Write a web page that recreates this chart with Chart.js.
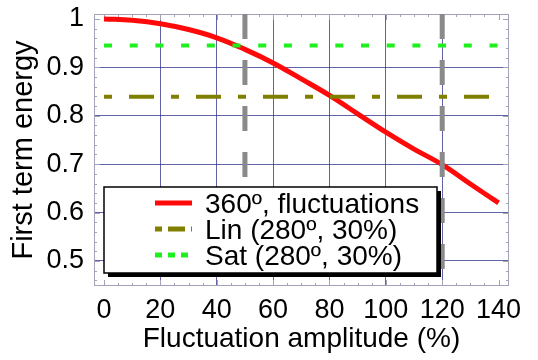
<!DOCTYPE html>
<html>
<head>
<meta charset="utf-8">
<script src="https://cdn.jsdelivr.net/npm/chart.js@4.4.1/dist/chart.umd.min.js"></script>
<style>
  html, body { margin: 0; padding: 0; background: #fff; }
  #wrap { width: 538px; height: 360px; }
</style>
</head>
<body>
<div id="wrap"><canvas id="chart" width="538" height="360"></canvas></div>
<script>
// amplitude (%) -> first term energy
const amplitude = [0, 10, 20, 30, 40, 50, 60, 70, 80, 90, 100, 110, 120, 130, 140];
const energy = [1.0, 0.997, 0.990, 0.978, 0.961, 0.937, 0.909, 0.876, 0.842, 0.804, 0.766, 0.731, 0.699, 0.659, 0.620];

// flat reference levels (280º, 30%)
const linLevel = 0.839;
const satLevel = 0.945;
const levelSpan = [0, 140];

// gray dashed verticals
const markers = [50, 120];

const seriesLabels = ['360º, fluctuations', 'Lin (280º, 30%)', 'Sat (280º, 30%)'];

const xTicks = [0, 20, 40, 60, 80, 100, 120, 140];
const xTickLabels = ['0', '20', '40', '60', '80', '100', '120', '140'];
const yTicks = [0.5, 0.6, 0.7, 0.8, 0.9, 1];
const yTickLabels = ['0.5', '0.6', '0.7', '0.8', '0.9', '1'];

const X_MIN = -3.55, X_MAX = 143.7;
const Y_MIN = 0.4483, Y_MAX = 1.0101;

const FONT = '"Liberation Sans", Arial, sans-serif';
const gridColor = 'rgba(45, 45, 140, 0.75)';
const frameColor = '#a2a2b8';

const hidden = 'rgba(0,0,0,0)';

// frame with inward ticks, Mathematica style
const framePlugin = {
    id: 'frame',
    beforeDatasetsDraw(chart) {
        const { ctx, chartArea: a, scales } = chart;
        const sx = scales.x, sy = scales.y;
        ctx.save();
        ctx.strokeStyle = frameColor;
        ctx.lineWidth = 1;
        ctx.strokeRect(a.left + 0.5, a.top + 0.5, a.right - a.left - 1, a.bottom - a.top - 1);
        ctx.beginPath();
        for (let v = 0; v <= 140; v += 5) {
            const px = Math.round(sx.getPixelForValue(v)) + 0.5;
            const len = v % 20 === 0 ? 6 : 3;
            ctx.moveTo(px, a.bottom); ctx.lineTo(px, a.bottom - len);
            ctx.moveTo(px, a.top); ctx.lineTo(px, a.top + len);
        }
        for (let k = 23; k <= 50; k++) {
            const v = k / 50;
            const py = Math.round(sy.getPixelForValue(v)) + 0.5;
            const len = k % 5 === 0 ? 6 : 3;
            ctx.moveTo(a.left, py); ctx.lineTo(a.left + len, py);
            ctx.moveTo(a.right, py); ctx.lineTo(a.right - len, py);
        }
        ctx.stroke();
        ctx.restore();
    }
};

// boxed legend with a drop shadow, inside the plot
const boxLegend = {
    id: 'boxLegend',
    afterDatasetsDraw(chart) {
        const { ctx } = chart;
        const bx = 104, by = 187, bw = 333, bh = 86;
        ctx.save();
        ctx.fillStyle = '#000';
        ctx.fillRect(bx + 4, by + 4, bw, bh);
        ctx.fillStyle = '#fff';
        ctx.fillRect(bx, by, bw, bh);
        ctx.strokeStyle = '#000';
        ctx.lineWidth = 1.5;
        ctx.strokeRect(bx, by, bw, bh);

        const rows = chart.data.datasets.filter(d => d.inLegend);
        rows.forEach((ds, i) => {
            const base = 213 + i * 26;
            const ly = base - 10;
            ctx.beginPath();
            ctx.strokeStyle = ds.borderColor;
            ctx.lineWidth = 5;
            ctx.lineCap = 'butt';
            ctx.setLineDash(ds.legendDash || []);
            ctx.moveTo(155, ly);
            ctx.lineTo(192, ly);
            ctx.stroke();
            ctx.setLineDash([]);
            ctx.fillStyle = '#000';
            ctx.font = '28px ' + FONT;
            ctx.textBaseline = 'alphabetic';
            ctx.textAlign = 'left';
            ctx.fillText(ds.label, 205, base);
        });
        ctx.restore();
    }
};

const datasets = [
    {
        label: seriesLabels[0],
        inLegend: true,
        data: amplitude.map((a, i) => ({ x: a, y: energy[i] })),
        borderColor: '#ff0a0a',
        borderWidth: 5,
        tension: 0.4,
        pointRadius: 0,
        order: 4
    },
    {
        label: seriesLabels[1],
        inLegend: true,
        data: levelSpan.map(a => ({ x: a, y: linLevel })),
        borderColor: '#808000',
        borderWidth: 4,
        borderDash: [8, 17, 25, 17],
        legendDash: [7, 6, 17, 6],
        pointRadius: 0,
        order: 3
    },
    {
        label: seriesLabels[2],
        inLegend: true,
        data: levelSpan.map(a => ({ x: a, y: satLevel })),
        borderColor: '#1ef01e',
        borderWidth: 4,
        borderDash: [8, 17.7],
        legendDash: [7, 6],
        pointRadius: 0,
        order: 2
    }
];

markers.forEach(m => {
    datasets.push({
        label: '',
        data: [{ x: m, y: Y_MAX }, { x: m, y: Y_MIN }],
        borderColor: '#8a8a8a',
        borderWidth: 5,
        borderDash: [25, 21],
        pointRadius: 0,
        order: 1
    });
});

new Chart(document.getElementById('chart'), {
    type: 'line',
    data: { datasets: datasets },
    options: {
        responsive: false,
        animation: false,
        layout: { padding: { top: 14, right: 29, left: 0, bottom: 0 } },
        plugins: {
            legend: { display: false },
            tooltip: { enabled: false }
        },
        scales: {
            x: {
                type: 'linear',
                min: X_MIN,
                max: X_MAX,
                afterBuildTicks: s => { s.ticks = xTicks.map(v => ({ value: v })); },
                afterFit: s => {
                    s.height = 74;
                    s.paddingLeft = 0; s.paddingRight = 0;
                },
                grid: {
                    color: c => (c.tick && (c.tick.value === 0 || c.tick.value === 140)) ? hidden : gridColor,
                    lineWidth: 1,
                    drawTicks: false
                },
                border: { display: false },
                ticks: {
                    padding: 8,
                    color: '#000',
                    font: { family: FONT, size: 27 },
                    maxRotation: 0,
                    autoSkip: false,
                    callback: (v, i) => xTickLabels[i]
                },
                title: {
                    display: true,
                    text: 'Fluctuation amplitude (%)',
                    color: '#000',
                    font: { family: FONT, size: 28 },
                    padding: { top: 0, bottom: 4 }
                }
            },
            y: {
                min: Y_MIN,
                max: Y_MAX,
                afterBuildTicks: s => { s.ticks = yTicks.map(v => ({ value: v })); },
                afterFit: s => {
                    s.width = 94;
                    s.paddingTop = 0; s.paddingBottom = 0;
                },
                grid: {
                    color: c => (c.tick && c.tick.value === 1) ? hidden : gridColor,
                    lineWidth: 1,
                    drawTicks: false
                },
                border: { display: false },
                ticks: {
                    padding: 10,
                    color: '#000',
                    font: { family: FONT, size: 27 },
                    autoSkip: false,
                    callback: (v, i) => yTickLabels[i]
                },
                title: {
                    display: true,
                    text: 'First term energy',
                    color: '#000',
                    font: { family: FONT, size: 29 },
                    padding: { top: 7, bottom: 0 }
                }
            }
        }
    },
    plugins: [framePlugin, boxLegend]
});
</script>
</body>
</html>
